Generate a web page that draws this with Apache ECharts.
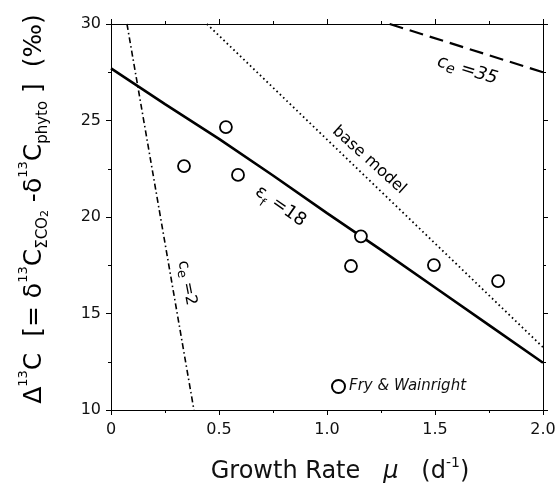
<!DOCTYPE html>
<html>
<head>
<meta charset="utf-8">
<script src="https://cdn.jsdelivr.net/npm/echarts@6/dist/echarts.min.js"></script>
<style>html,body{margin:0;padding:0;background:#fff}#c{width:560px;height:491px}</style>
</head>
<body>
<div id="c"></div>
<script>
// ---- data ----
const rateF18 = [0, 0.25, 0.5, 0.75, 1.0, 1.25, 1.5, 1.75, 2.0];
const deltaF18 = [27.7, 25.85, 24.05, 22.15, 20.2, 18.3, 16.35, 14.4, 12.45];
const rateCe2 = [0.074, 0.384];
const deltaCe2 = [30, 10];
const rateBase = [0.444, 2.0];
const deltaBase = [30, 13.25];
const rateCe35 = [1.29, 2.0];
const deltaCe35 = [30, 27.5];
const rateObs = [0.338, 0.532, 0.588, 1.111, 1.157, 1.495, 1.792];
const deltaObs = [22.64, 24.66, 22.18, 17.46, 19.0, 17.51, 16.68];
const xTickValues = [0, 0.5, 1.0, 1.5, 2.0];
const xTickLabels = ['0', '0.5', '1.0', '1.5', '2.0'];
const yTickValues = [10, 15, 20, 25, 30];
const yTickLabels = ['10', '15', '20', '25', '30'];
const obsName = 'Fry & Wainright';

function zip(a, b) { return a.map((v, i) => [v, b[i]]); }
function lookup(vals, labels, v) {
  const i = vals.findIndex(t => Math.abs(t - v) < 1e-9);
  return i >= 0 ? labels[i] : '';
}

const FONT = '"DejaVu Sans", sans-serif';
const axisCommon = {
  type: 'value',
  axisLine: { show: true, onZero: false, lineStyle: { color: '#000', width: 1 } },
  axisTick: { show: true, inside: false, length: 5, lineStyle: { color: '#000', width: 1 } },
  minorTick: { show: true, splitNumber: 2, length: 3, lineStyle: { color: '#000', width: 1 } },
  splitLine: { show: false },
  minorSplitLine: { show: false }
};

const chart = echarts.init(document.getElementById('c'), null, { renderer: 'canvas' });
const option = {
  backgroundColor: '#fff',
  animation: false,
  grid: { left: 111, right: 17, top: 24, bottom: 81 },
  xAxis: [
    Object.assign({}, axisCommon, {
      position: 'bottom', min: 0, max: 2, interval: 0.5,
      axisLabel: { show: true, margin: 12, color: '#111', fontFamily: FONT, fontSize: 16,
        formatter: v => lookup(xTickValues, xTickLabels, v) }
    }),
    Object.assign({}, axisCommon, {
      position: 'top', min: 0, max: 2, interval: 0.5,
      axisLabel: { show: false }
    })
  ],
  yAxis: [
    Object.assign({}, axisCommon, {
      position: 'left', min: 10, max: 30, interval: 5,
      axisLabel: { show: true, margin: 10, color: '#111', fontFamily: FONT, fontSize: 16,
        formatter: v => lookup(yTickValues, yTickLabels, v) }
    }),
    Object.assign({}, axisCommon, {
      position: 'right', min: 10, max: 30, interval: 5,
      axisLabel: { show: false }
    })
  ],
  legend: {
    data: [obsName],
    left: 326, top: 374,
    itemWidth: 13, itemHeight: 13, itemGap: 4,
    icon: 'circle',
    textStyle: { fontFamily: FONT, fontStyle: 'italic', fontSize: 15, color: '#111', padding: [0, 0, 0, -1] }
  },
  series: [
    { type: 'line', name: 'f18', data: zip(rateF18, deltaF18), symbol: 'none',
      lineStyle: { color: '#000', width: 2.6 }, z: 3 },
    { type: 'line', name: 'ce2', data: zip(rateCe2, deltaCe2), symbol: 'none',
      lineStyle: { color: '#000', width: 1.6, type: [6, 3, 1.5, 3] } },
    { type: 'line', name: 'base', data: zip(rateBase, deltaBase), symbol: 'none',
      lineStyle: { color: '#000', width: 1.8, type: [1.6, 3] } },
    { type: 'line', name: 'ce35', data: zip(rateCe35, deltaCe35), symbol: 'none',
      lineStyle: { color: '#000', width: 2.2, type: [14, 7] } },
    { type: 'scatter', name: obsName, data: zip(rateObs, deltaObs), symbol: 'circle', symbolSize: 12,
      itemStyle: { color: '#fff', borderColor: '#000', borderWidth: 1.8, opacity: 1 }, z: 5 }
  ]
};
chart.setOption(option);

function txt(x, y, rot, text, rich, extra) {
  return Object.assign({
    type: 'text', x: x, y: y, rotation: rot * Math.PI / 180,
    style: Object.assign({ text: text, rich: rich, align: 'center', verticalAlign: 'middle', fill: '#000', fontFamily: FONT }, extra || {}),
    z: 10
  });
}
const P = (a, b) => chart.convertToPixel({ xAxisIndex: 0, yAxisIndex: 0 }, [a, b]);

const pCe35 = P(1.65, 27.6);
const pBase = P(1.195, 22.95);
const pF18 = P(0.785, 20.55);
const pCe2 = P(0.352, 16.58);

chart.setOption({
  graphic: [
    txt(pCe35[0], pCe35[1], -17, '{a|c}{b|e}{a| =35}', {
      a: { fontFamily: FONT, fontSize: 18, fontStyle: 'italic', fill: '#000' },
      b: { fontFamily: FONT, fontSize: 14, fontStyle: 'italic', fill: '#000', verticalAlign: 'bottom', lineHeight: 22 }
    }),
    txt(pBase[0], pBase[1], -42, 'base model', null, { fontSize: 16, fontFamily: FONT }),
    txt(pF18[0], pF18[1], -35, '{a|ε}{b|f}{a| =18}', {
      a: { fontFamily: FONT, fontSize: 18, fill: '#000' },
      b: { fontFamily: FONT, fontSize: 12, fill: '#000', verticalAlign: 'bottom', lineHeight: 28 }
    }),
    txt(pCe2[0], pCe2[1], -79, '{a|c}{b|e}{a| =2}', {
      a: { fontFamily: FONT, fontSize: 16, fill: '#000' },
      b: { fontFamily: FONT, fontSize: 13, fill: '#000', verticalAlign: 'bottom', lineHeight: 21 }
    }),
    // y-axis title
    txt(34, 209, 90,
      '{m|Δ}{s|13}{m|C  [= δ}{s|13}{m|C}{b|ΣCO}{bb|2}{m| -δ}{s|13}{m|C}{b|phyto}{m| ]  (‰)}', {
        m: { fontFamily: FONT, fontSize: 25, fill: '#000', lineHeight: 34 },
        s: { fontFamily: FONT, fontSize: 13, fill: '#000', verticalAlign: 'top', lineHeight: 34 },
        b: { fontFamily: FONT, fontSize: 15, fill: '#000', verticalAlign: 'bottom', lineHeight: 30 },
        bb: { fontFamily: FONT, fontSize: 11, fill: '#000', verticalAlign: 'bottom', lineHeight: 26 }
      }),
    // x-axis title
    txt(340, 472, 0, '{m|Growth Rate   }{i|μ}{m|   (d}{s|-1}{m|)}', {
      m: { fontFamily: FONT, fontSize: 24, fill: '#111', lineHeight: 32 },
      i: { fontFamily: FONT, fontSize: 24, fontStyle: 'italic', fill: '#111', lineHeight: 32 },
      s: { fontFamily: FONT, fontSize: 14, fill: '#111', verticalAlign: 'top', lineHeight: 32 }
    })
  ]
});
</script>
</body>
</html>
